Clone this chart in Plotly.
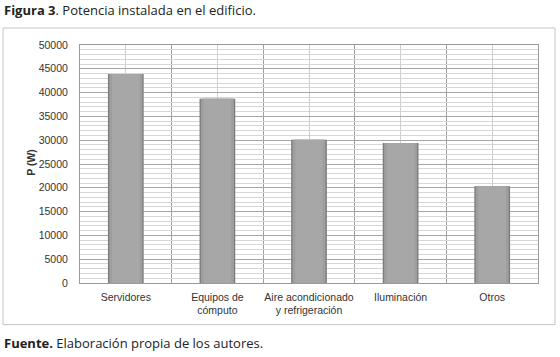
import plotly.graph_objects as go

categories = ["Servidores", "Equipos de<br>cómputo", "Aire acondicionado<br>y refrigeración", "Iluminación", "Otros"]
values = [43900, 38700, 30100, 29400, 20300]
y_ticks = [0, 5000, 10000, 15000, 20000, 25000, 30000, 35000, 40000, 45000, 50000]

W, H = 560, 357
L, R, T, B = 80, 538, 45, 283.3

def px_x(px):
    return (px - L) / (R - L)

def px_y(py):
    return (B - py) / (B - T)

xpos = list(range(len(categories)))

fig = go.Figure()
layers = [(0.39, "#7c7c7c"), (0.36, "#9e9e9e"), (0.30, "#a7a7a7")]
for w, c in layers:
    fig.add_trace(go.Bar(x=xpos, y=values, width=w, marker=dict(color=c, line=dict(width=0)),
                         hoverinfo="skip", showlegend=False))

fig.update_layout(
    width=W, height=H,
    margin=dict(l=L, r=W - R, t=T, b=H - B, autoexpand=False),
    barmode="overlay",
    paper_bgcolor="white", plot_bgcolor="white",
    font=dict(family="Liberation Sans, Arial, sans-serif", size=10.5, color="#333333"),
    showlegend=False,
)
fig.update_xaxes(
    range=[-0.5, 4.5], tickvals=xpos, ticktext=categories, automargin=False,
    showgrid=True, gridcolor="#cfcfcf", gridwidth=1,
    showline=True, linecolor="#9a9a9a", mirror=True, ticks="", ticklen=0,
    minor=dict(tickvals=[0.5, 1.5, 2.5, 3.5], showgrid=True, gridcolor="#9f9f9f", gridwidth=1),
    tickfont=dict(size=10.5, color="#333333"), zeroline=False, ticklabelstandoff=4,
)
fig.update_yaxes(
    range=[0, 50000], tickvals=y_ticks, ticktext=[str(v) for v in y_ticks], automargin=False,
    showgrid=True, gridcolor="#a5a5a5", gridwidth=1,
    minor=dict(dtick=1000, showgrid=True, gridcolor="#d6d6d6", gridwidth=1),
    showline=True, linecolor="#9a9a9a", mirror=True, ticks="", zeroline=False,
    tickfont=dict(size=10.5, color="#333333"), ticklabelstandoff=9,
)

fig.add_annotation(xref="paper", yref="paper", x=px_x(31), y=px_y(163), xanchor="center", yanchor="middle",
                   text="<b>P (W)</b>", textangle=-90, showarrow=False,
                   font=dict(family="Liberation Sans, Arial, sans-serif", size=10.5, color="#333333"))

# outer frame
fig.add_shape(type="rect", xref="paper", yref="paper",
              x0=px_x(3), x1=px_x(555), y0=px_y(325), y1=px_y(28),
              line=dict(color="#c4c4c4", width=1), fillcolor="rgba(0,0,0,0)", layer="below")

fig.add_annotation(xref="paper", yref="paper", x=px_x(2), y=px_y(10), xanchor="left", yanchor="middle",
                   text="<b>Figura 3</b>. Potencia instalada en el edificio.", showarrow=False,
                   font=dict(family="Open Sans, Noto Sans, sans-serif", size=13, color="#222222"))
fig.add_annotation(xref="paper", yref="paper", x=px_x(2), y=px_y(343), xanchor="left", yanchor="middle",
                   text="<b>Fuente.</b> Elaboración propia de los autores.", showarrow=False,
                   font=dict(family="Open Sans, Noto Sans, sans-serif", size=13, color="#222222"))

fig.write_html("out.html", config={"displayModeBar": False},
               post_script="document.body.style.margin='0';document.body.style.overflow='hidden';")
